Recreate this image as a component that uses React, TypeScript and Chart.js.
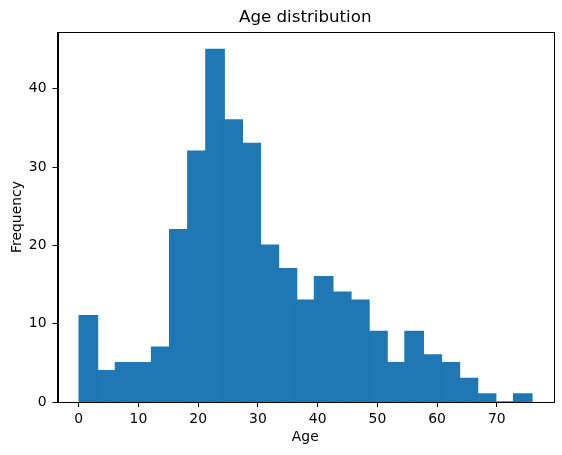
import React, { useEffect, useRef } from "react";
import { Chart, registerables } from "chart.js";

Chart.register(...registerables);

const binStart = 0.1;
const binWidth = 3.03;
const counts = [11, 4, 5, 5, 7, 22, 32, 45, 36, 33, 20, 17, 13, 16, 14, 13, 9, 5, 9, 6, 5, 3, 1, 0, 1];
const xTicks = [0, 10, 20, 30, 40, 50, 60, 70];
const yTicks = [0, 10, 20, 30, 40];

const FONT = "'DejaVu Sans', sans-serif";

const framePlugin = {
  id: "frame",
  afterLayout(chart: any) {
    const tb = chart.titleBlock;
    if (tb) {
      tb.left = chart.chartArea.left;
      tb.right = chart.chartArea.right;
      tb.width = tb.right - tb.left;
    }
  },
  afterDatasetsDraw(chart: any) {
    const { ctx, chartArea } = chart;
    ctx.save();
    ctx.strokeStyle = "#000";
    ctx.lineWidth = 1;
    ctx.strokeRect(
      Math.round(chartArea.left) + 0.5,
      Math.round(chartArea.top) + 0.5,
      Math.round(chartArea.right - chartArea.left),
      Math.round(chartArea.bottom - chartArea.top)
    );
    ctx.restore();
  },
};

export default function App() {
  const ref = useRef<HTMLCanvasElement>(null);
  useEffect(() => {
    const data = counts.map((c, i) => ({ x: binStart + binWidth * (i + 0.5), y: c }));
    const chart = new Chart(ref.current!, {
      type: "bar",
      data: {
        datasets: [
          {
            data,
            backgroundColor: "#1f77b4",
            borderWidth: 0,
            barPercentage: 1,
            categoryPercentage: 1,
            grouped: false,
            inflateAmount: 0.8,
          } as any,
        ],
      },
      plugins: [framePlugin],
      options: {
        animation: false,
        responsive: false,
        devicePixelRatio: 1,
        layout: { padding: { left: 0, right: 9, top: 0, bottom: 0 } },
        plugins: {
          legend: { display: false },
          tooltip: { enabled: false },
          title: {
            display: true,
            text: "Age distribution",
            color: "#000",
            font: { family: FONT, size: 16.67, weight: "normal" },
            padding: { top: 8, bottom: 4 },
          },
        },
        scales: {
          x: {
            type: "linear",
            min: -3.55,
            max: 79.4,
            offset: false,
            afterBuildTicks: (s: any) => {
              s.ticks = xTicks.map((v) => ({ value: v }));
            },
            afterFit: (s: any) => {
              s.height = 53;
            },
            grid: {
              display: true,
              offset: false,
              drawOnChartArea: false,
              drawTicks: true,
              tickLength: 5,
              tickColor: "#000",
            },
            border: { display: true, color: "#000" },
            ticks: {
              color: "#000",
              font: { family: FONT, size: 13.9 },
              padding: 4,
              maxRotation: 0,
              autoSkip: false,
            },
            title: {
              display: true,
              text: "Age",
              color: "#000",
              font: { family: FONT, size: 13.9 },
              padding: { top: 0, bottom: 9 },
            },
          },
          y: {
            type: "linear",
            min: 0,
            max: 47.25,
            afterBuildTicks: (s: any) => {
              s.ticks = yTicks.map((v) => ({ value: v }));
            },
            afterFit: (s: any) => {
              s.width = 57.5;
            },
            grid: {
              display: true,
              offset: false,
              drawOnChartArea: false,
              drawTicks: true,
              tickLength: 5,
              tickColor: "#000",
            },
            border: { display: true, color: "#000" },
            ticks: {
              color: "#000",
              font: { family: FONT, size: 13.9 },
              padding: 6,
            },
            title: {
              display: true,
              text: "Frequency",
              color: "#000",
              font: { family: FONT, size: 13.9 },
              padding: { top: 9, bottom: 0 },
            },
          },
        },
      } as any,
    });
    return () => chart.destroy();
  }, []);
  return (
    <div style={{ position: "fixed", left: 0, top: 0, width: 562, height: 455, background: "#fff" }}>
      <canvas ref={ref} width={562} height={455} style={{ width: 562, height: 455 }} />
    </div>
  );
}
